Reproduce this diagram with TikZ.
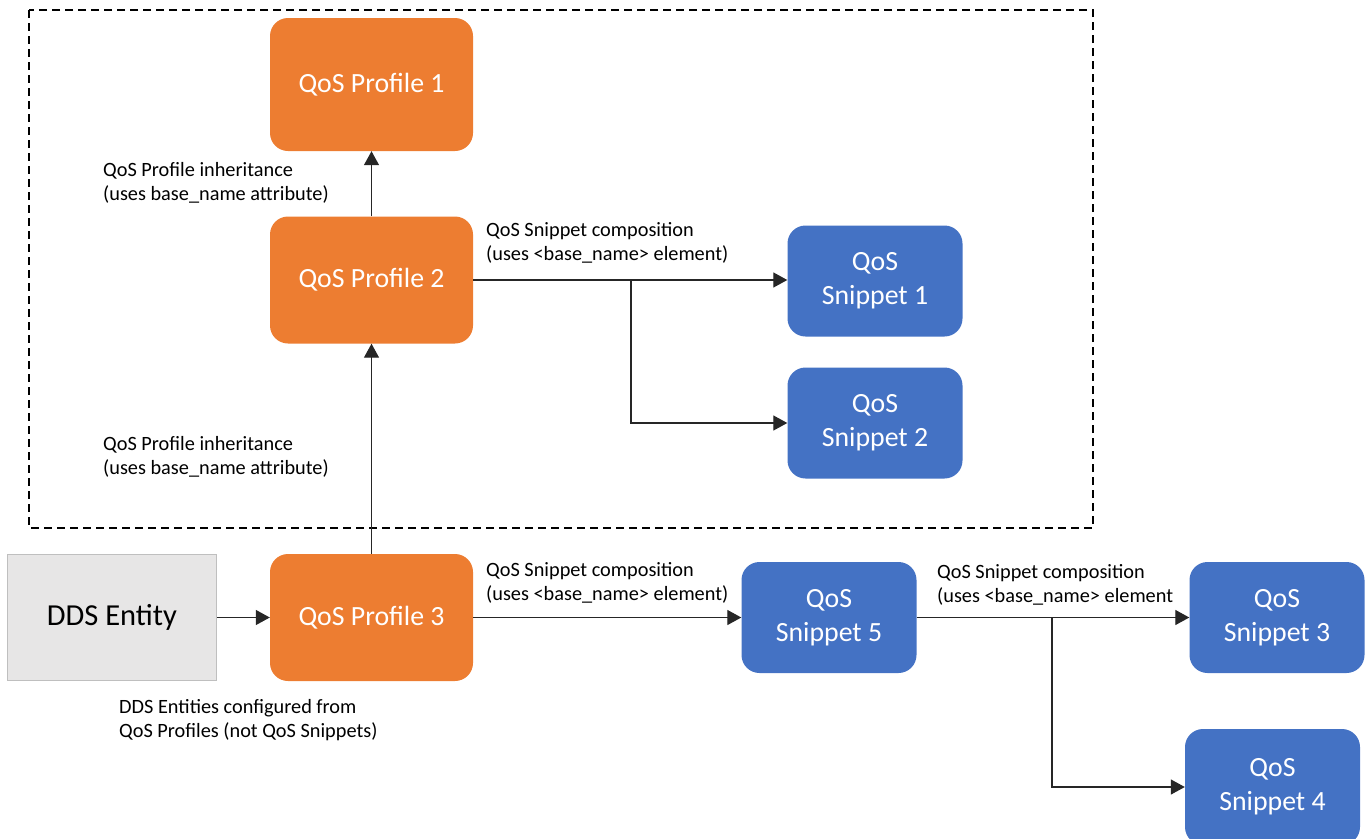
\documentclass[tikz,border=0pt]{standalone}
\usepackage{fontspec}
\setmainfont{Carlito}
\usetikzlibrary{arrows.meta}
\definecolor{qorange}{HTML}{ED7D31}
\definecolor{qblue}{HTML}{4472C4}
\definecolor{qgrey}{HTML}{E7E6E6}
\definecolor{qborder}{HTML}{BFBFBF}
\tikzset{
  box/.style={rounded corners=18pt, text=white, font=\fontsize{27.8}{34}\selectfont, align=center, inner sep=0pt},
  prof/.style={box, fill=qorange, minimum width=203pt, minimum height=127pt},
  snip/.style={box, fill=qblue, minimum width=175pt, minimum height=111pt},
  entity/.style={fill=qgrey, draw=qborder, line width=1.5pt, text=black, font=\fontsize{30.5}{36}\selectfont, minimum width=209pt, minimum height=126pt, inner sep=0pt},
  lab/.style={font=\fontsize{20.3}{24}\selectfont, align=left, anchor=north west, inner sep=0pt},
  conn/.style={line width=1.3pt, draw=black!85, -{Triangle[length=14pt,width=15pt]}},
  frame/.style={line width=2pt, dash pattern=on 8pt off 5pt},
}
\begin{document}
\begin{tikzpicture}[x=1pt,y=-1pt]
\useasboundingbox (0,0) rectangle (1367,838);
\draw[frame] (29,10) rectangle (1093,528);

\node[prof, minimum height=133pt] (P1) at (371.5,84.5) {QoS Profile 1};
\node[prof] (P2) at (371.5,280) {QoS Profile 2};
\node[prof] (P3) at (371.5,617.5) {QoS Profile 3};
\node[entity] (DDS) at (112,617.5) {DDS Entity};

\node[snip] (S1) at (875,281) {QoS\\Snippet 1};
\node[snip] (S2) at (875,423) {QoS\\Snippet 2};
\node[snip] (S5) at (829,617.5) {QoS\\Snippet 5};
\node[snip] (S3) at (1277,617.5) {QoS\\Snippet 3};
\node[snip, minimum height=116pt] (S4) at (1272.5,787) {QoS\\Snippet 4};

\node[lab] (L1) at (103,162) {QoS Profile inheritance\\(uses base\_name attribute)};
\node[lab] (L2) at (103,436) {QoS Profile inheritance\\(uses base\_name attribute)};
\node[lab] (L3) at (486,222) {QoS Snippet composition\\(uses <base\_name> element)};
\node[lab] (L4) at (486,562) {QoS Snippet composition\\(uses <base\_name> element)};
\node[lab] (L5) at (937,564) {QoS Snippet composition\\(uses <base\_name> element};
\node[lab] (L6) at (119,699) {DDS Entities configured from\\QoS Profiles (not QoS Snippets)};

\draw[conn] (P2.north) -- (P1.south);
\draw[conn] (P3.north) -- (P2.south);
\draw[conn] (DDS.east) -- (P3.west);
\draw[conn] (P2.east) -- (P2.east -| S1.west);
\coordinate (b1) at (631,280);
\draw[conn] (b1) |- (S2.west);
\draw[conn] (P3.east) -- (S5.west);
\draw[conn] (S5.east) -- (S3.west);
\coordinate (b2) at (1052,617.5);
\draw[conn] (b2) |- (S4.west);
\end{tikzpicture}
\end{document}
